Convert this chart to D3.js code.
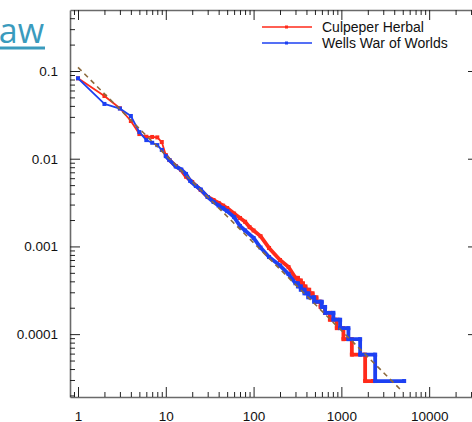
<!DOCTYPE html>
<html><head><meta charset="utf-8">
<script src="https://cdn.jsdelivr.net/npm/d3@7"></script>
<style>
body{margin:0;background:#fff;overflow:hidden}
svg{display:block}
text{font-family:"Liberation Sans",Arial,Helvetica,sans-serif}
</style>
</head><body>
<svg id="c" width="472" height="422"></svg>
<script>
// ---------- data ----------
const redRank = [1,2,3,4,5,6,7,8,9,10,11,13,15,17,20,25,30,35,40,45,50,60,70,80,90,100,120,150,200,250,300,
  320,320,345,345,365,365,390,390,430,430,470,470,520,520,580,580,650,650,740,740,887,887,1055,1055,1316,1316,1865,1865,2290];
const redFreq = [0.0826,0.0519,0.0376,0.0269,0.0191,0.0178,0.0177,0.0175,0.0155,0.0110,0.00966,
  0.00826,0.00743,0.00624,0.00542,0.00440,0.00366,0.00338,0.00313,0.00292,0.00274,
  0.00237,0.00211,0.00191,0.00166,0.00152,0.00131,0.00096,0.00070,0.000582,0.000438,
  0.000438,0.000409,0.000409,0.00038,0.00038,0.00035,0.00035,0.000321,0.000321,0.000292,0.000292,0.000263,
  0.000263,0.000234,0.000234,0.000204,0.000204,0.000175,0.000175,0.000146,0.000146,0.000117,
  0.000117,0.0000876,0.0000876,0.0000584,0.0000584,0.0000292,0.0000292];

const blueRank = [1,2,3,4,5,6,7,8,9,10,11,13,15,17,19,22,25,30,35,40,45,50,60,70,80,100,120,150,200,250,300,
  320,320,345,345,380,380,420,420,490,490,598,598,653,653,811,811,968,968,1203,1203,1636,1636,2426,2426,5190];
const blueFreq = [0.0826,0.0421,0.0373,0.0307,0.0201,0.0163,0.0152,0.0143,0.0126,0.0107,0.00966,
  0.00815,0.00753,0.00670,0.00557,0.00489,0.00446,0.00366,0.00321,0.00292,0.00272,0.00253,
  0.00216,0.00171,0.00152,0.00125,0.000971,0.000757,0.000605,0.000484,0.00038,
  0.00038,0.00035,0.00035,0.000321,0.000321,0.000292,0.000292,0.000263,0.000263,0.000234,
  0.000234,0.000204,0.000204,0.000175,0.000175,0.000146,0.000146,0.000117,0.000117,0.0000876,
  0.0000876,0.0000584,0.0000584,0.0000292,0.0000292];

const refRank = [1, 5000];
const refFreq = [0.11, 0.000022];

const seriesNames = ["Culpeper Herbal", "Wells War of Worlds"];
const seriesColors = ["#ff2a1a", "#1d40f2"];

const xMajor = [1, 10, 100, 1000, 10000];
const xLabels = ["1", "10", "100", "1000", "10000"];
const yMajor = [0.1, 0.01, 0.001, 0.0001];
const yLabels = ["0.1", "0.01", "0.001", "0.0001"];

// ---------- layout ----------
const L = 70, R = 478, T = 10, B = 397;
const svg = d3.select("#c");

const x = d3.scaleLog().domain([0.8106, 36000]).range([L, R]);
const y = d3.scaleLog().domain([1.92e-5, 0.496]).range([B, T]);

// title fragment
svg.append("text").attr("x", 44).attr("y", 43).attr("text-anchor", "end")
  .style("font-family", "'Open Sans',sans-serif").style("font-size", "34px")
  .attr("fill", "#3a9bbd").text("Power law");
svg.append("rect").attr("x", 0).attr("y", 46.5).attr("width", 45).attr("height", 3).attr("fill", "#3a9bbd");

// minor ticks
function minors(lo, hi) {
  const out = [];
  for (let e = -6; e <= 5; e++) for (let m = 2; m <= 9; m++) {
    const v = m * Math.pow(10, e);
    if (v > lo && v < hi) out.push(v);
  }
  return out;
}
const xMin = minors(0.85, 35000).concat([0.9]);
const yMin = minors(1.95e-5, 0.49);

function styleAxis(g, showDomain) {
  g.selectAll(".tick line").attr("stroke", "#222").attr("stroke-width", 1);
  g.select(".domain").attr("stroke", showDomain ? "#6a6a6a" : "none").attr("stroke-width", 1.6);
  g.selectAll("text").style("font-size", "13.5px").attr("fill", "#111");
}

const fmtX = (d) => xLabels[xMajor.indexOf(d)];
const fmtY = (d) => yLabels[yMajor.indexOf(d)];

// bottom
svg.append("g").attr("transform", `translate(0,${B})`)
  .call(d3.axisBottom(x).tickValues(xMin).tickSize(-5).tickSizeOuter(0).tickFormat(""))
  .call(g => styleAxis(g, true));
svg.append("g").attr("transform", `translate(0,${B})`)
  .call(d3.axisBottom(x).tickValues(xMajor).tickSize(-10).tickSizeOuter(0).tickPadding(14).tickFormat(fmtX))
  .call(g => styleAxis(g, false));
// top
svg.append("g").attr("transform", `translate(0,${T})`)
  .call(d3.axisTop(x).tickValues(xMin).tickSize(-5).tickSizeOuter(0).tickFormat(""))
  .call(g => styleAxis(g, true));
svg.append("g").attr("transform", `translate(0,${T})`)
  .call(d3.axisTop(x).tickValues(xMajor).tickSize(-10).tickSizeOuter(0).tickFormat(""))
  .call(g => styleAxis(g, false));
// left
svg.append("g").attr("transform", `translate(${L},0)`)
  .call(d3.axisLeft(y).tickValues(yMin).tickSize(-5).tickSizeOuter(0).tickFormat(""))
  .call(g => styleAxis(g, true));
svg.append("g").attr("transform", `translate(${L},0)`)
  .call(d3.axisLeft(y).tickValues(yMajor).tickSize(-10).tickSizeOuter(0).tickPadding(12).tickFormat(fmtY))
  .call(g => styleAxis(g, false));
// right
svg.append("g").attr("transform", `translate(${R},0)`)
  .call(d3.axisRight(y).tickValues(yMin).tickSize(-5).tickSizeOuter(0).tickFormat(""))
  .call(g => styleAxis(g, true));
svg.append("g").attr("transform", `translate(${R},0)`)
  .call(d3.axisRight(y).tickValues(yMajor).tickSize(-10).tickSizeOuter(0).tickFormat(""))
  .call(g => styleAxis(g, false));

// series
const line = d3.line().x(d => x(d[0])).y(d => y(d[1]));
const series = [
  redRank.map((r, i) => [r, redFreq[i]]),
  blueRank.map((r, i) => [r, blueFreq[i]])
];
series.forEach((pts, si) => {
  const g = svg.append("g");
  g.append("path").attr("d", line(pts)).attr("fill", "none")
    .attr("stroke", seriesColors[si]).attr("stroke-width", 1.8).attr("stroke-linejoin", "round");
  g.append("path").attr("d", line(pts.filter(p => p[0] >= 10))).attr("fill", "none")
    .attr("stroke", seriesColors[si]).attr("stroke-width", 3.8).attr("stroke-linejoin", "round");
  g.selectAll("rect").data(pts).join("rect")
    .attr("x", d => x(d[0]) - 2).attr("y", d => y(d[1]) - 2)
    .attr("width", 4).attr("height", 4).attr("fill", seriesColors[si]);
});

// reference dashed line
svg.append("path").attr("d", line(refRank.map((r, i) => [r, refFreq[i]])))
  .attr("fill", "none").attr("stroke", "#8c6a3c").attr("stroke-width", 1.6)
  .attr("stroke-dasharray", "5,4");

// legend
const lg = svg.append("g");
seriesNames.forEach((name, i) => {
  const yy = 27 + i * 16;
  lg.append("line").attr("x1", 262).attr("x2", 312).attr("y1", yy).attr("y2", yy)
    .attr("stroke", seriesColors[i]).attr("stroke-width", 1.6);
  lg.append("rect").attr("x", 285).attr("y", yy - 1.5).attr("width", 3).attr("height", 3)
    .attr("fill", seriesColors[i]);
  lg.append("text").attr("x", 322).attr("y", yy + 5).style("font-size", "14px")
    .attr("fill", "#111").text(name);
});
</script>
</body></html>
